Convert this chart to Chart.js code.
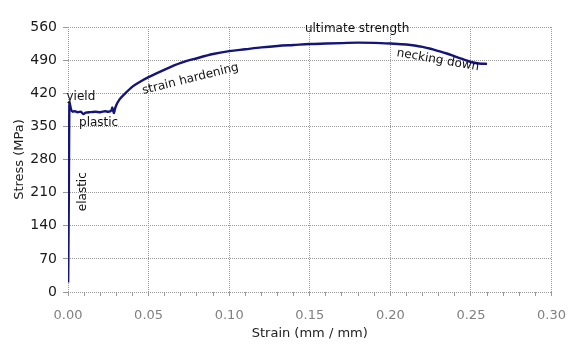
<!DOCTYPE html>
<html>
<head>
<meta charset="utf-8">
<script src="https://cdn.jsdelivr.net/npm/chart.js@4.4.1/dist/chart.umd.min.js"></script>
<style>
  html, body { margin: 0; padding: 0; background: #fff; }
  #wrap { width: 578px; height: 353px; position: relative; }
</style>
</head>
<body>
<div id="wrap"><canvas id="chartRef"></canvas></div>
<script>
// strain (mm/mm) and stress (MPa)
const strain = [0.0001, 0.0005, 0.0009, 0.0013, 0.0020, 0.0030, 0.0040, 0.0060, 0.0080, 0.0095,
    0.0110, 0.0140, 0.0170, 0.0200, 0.0230, 0.0250, 0.0270, 0.0275, 0.0280, 0.0285,
    0.0290, 0.0300, 0.0320, 0.0350, 0.0400, 0.0450, 0.0500, 0.0600, 0.0700, 0.0800,
    0.0900, 0.1000, 0.1100, 0.1200, 0.1300, 0.1400, 0.1500, 0.1600, 0.1700, 0.1800,
    0.1900, 0.2000, 0.2100, 0.2150, 0.2200, 0.2250, 0.2300, 0.2350, 0.2400, 0.2450,
    0.2500, 0.2550, 0.2600];
const stress = [20, 200, 402, 395, 385, 381, 382, 380, 381, 376,
    379, 380, 381, 380, 382, 381, 384, 390, 383, 378,
    385, 395, 407, 418, 434, 445, 454, 470, 484, 494,
    503, 509, 513, 517, 520, 522, 524, 525, 526, 527,
    526.5, 525, 523, 521, 518, 514, 509, 504, 498, 492,
    486, 483, 482];

const stressTicks = [0, 70, 140, 210, 280, 350, 420, 490, 560];
const strainMax = 0.30;

// text notes on the curve: [text, strain, stress, angle in degrees]
const noteText = ["yield", "plastic", "elastic", "strain hardening", "ultimate strength", "necking down"];
const noteAt = [[0.008, 412], [0.019, 357], [0.0095, 212], [0.076, 450], [0.1794, 555], [0.2295, 490]];
const noteAngle = [0, 0, -90, -14, 0, 10];

const curveNotes = {
    id: "curveNotes",
    afterDatasetsDraw(chart) {
        const { ctx, scales: { x, y } } = chart;
        ctx.save();
        ctx.font = "12px 'DejaVu Sans'";
        ctx.fillStyle = "#111";
        ctx.textAlign = "center";
        ctx.textBaseline = "middle";
        noteText.forEach((t, i) => {
            ctx.save();
            ctx.translate(x.getPixelForValue(noteAt[i][0]), y.getPixelForValue(noteAt[i][1]));
            ctx.rotate(noteAngle[i] * Math.PI / 180);
            ctx.fillText(t, 0, 0);
            ctx.restore();
        });
        ctx.restore();
    }
};

const gridGray = "#9a9a9a";

new Chart(document.getElementById("chartRef"), {
    type: "line",
    data: {
        datasets: [{
            label: "Stress",
            data: strain.map((s, i) => ({ x: s, y: stress[i] })),
            borderColor: "#14147a",
            borderWidth: 2.4,
            pointRadius: 0,
            cubicInterpolationMode: "monotone",
            fill: false
        }]
    },
    options: {
        responsive: true,
        maintainAspectRatio: false,
        animation: false,
        layout: { padding: { left: 0, right: 25, top: 27, bottom: 0 } },
        plugins: {
            legend: { display: false },
            tooltip: { enabled: false }
        },
        scales: {
            x: {
                type: "linear",
                min: 0,
                max: strainMax,
                border: { display: false, dash: [1, 1] },
                grid: {
                    color: (c) => (c.index % 5 === 0 ? gridGray : "rgba(0,0,0,0)"),
                    tickColor: gridGray,
                    tickLength: 4
                },
                ticks: {
                    stepSize: 0.01,
                    autoSkip: false,
                    maxRotation: 0,
                    padding: 12,
                    color: "#808080",
                    font: { family: "DejaVu Sans", size: 13 },
                    callback: (v, i) => (i % 5 === 0 ? v.toFixed(2) : "")
                },
                title: {
                    display: true,
                    text: "Strain (mm / mm)",
                    color: "#222",
                    font: { family: "DejaVu Sans", size: 13 },
                    padding: { top: 0, bottom: 12 }
                },
                afterFit: (s) => { s.height = 61; }
            },
            y: {
                min: 0,
                max: 560,
                border: { display: false, dash: [1, 1] },
                grid: { color: gridGray, tickColor: gridGray, tickLength: 5 },
                afterBuildTicks: (s) => { s.ticks = stressTicks.map(v => ({ value: v })); },
                ticks: {
                    padding: 6,
                    color: "#1a1a1a",
                    font: { family: "DejaVu Sans", size: 14 }
                },
                title: {
                    display: true,
                    text: "Stress (MPa)",
                    color: "#222",
                    font: { family: "DejaVu Sans", size: 13 },
                    padding: { top: 12, bottom: 0 }
                },
                afterFit: (s) => { s.width = 68; }
            }
        }
    },
    plugins: [curveNotes]
});
</script>
</body>
</html>
